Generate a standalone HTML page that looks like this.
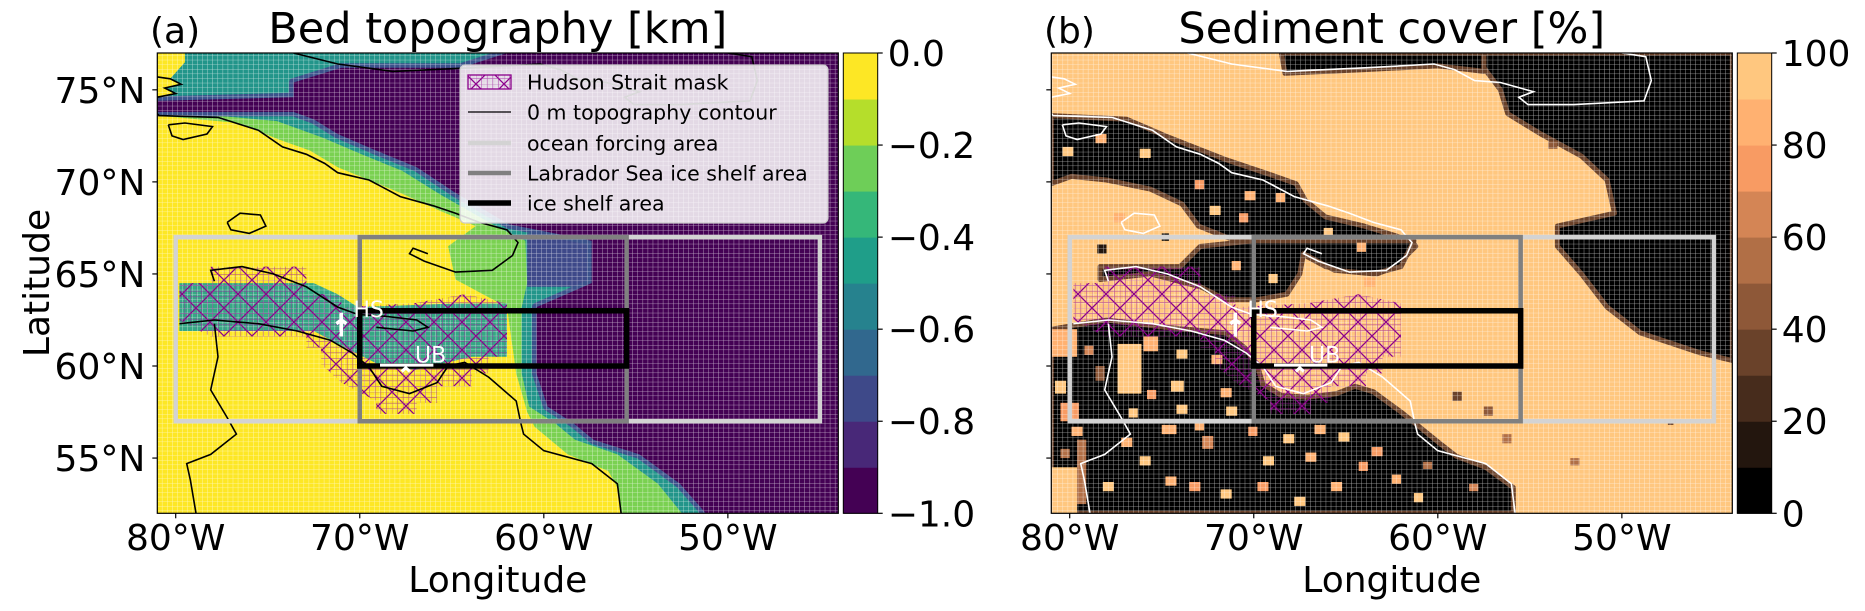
<!DOCTYPE html>
<html><head><meta charset="utf-8"><style>
html,body{margin:0;padding:0;background:#fff;}
svg{display:block;font-family:"DejaVu Sans","Liberation Sans",sans-serif;}
</style></head><body>
<svg id="fig" width="1865" height="611" viewBox="0 0 1865 611" xmlns="http://www.w3.org/2000/svg">
<defs>
<pattern id="grid" patternUnits="userSpaceOnUse" width="5.06" height="4.6">
<path d="M0 0H5.06M0 0V4.6" stroke="#fff" stroke-width="0.8" opacity="0.7" fill="none"/>
</pattern>
<pattern id="hatch" patternUnits="userSpaceOnUse" width="28" height="28">
<path d="M0 0L28 28M28 0L0 28" stroke="#8b008b" stroke-width="1.3" fill="none"/>
<path d="M0 0H28M0 5.6H28M0 11.2H28M0 16.8H28M0 22.4H28M0 0V28M5.6 0V28M11.2 0V28M16.8 0V28M22.4 0V28" stroke="#a020a0" stroke-width="0.6" opacity="0.7" fill="none"/>
</pattern>
<clipPath id="clipA"><rect x="157.3" y="53" width="681" height="460.3"/></clipPath>
<clipPath id="clipB"><rect x="1051.3" y="53" width="681" height="460.3"/></clipPath>
</defs>
<g id="root"></g>
</svg>
<script>
// ---- data (lon/lat) ----
const latTicks = [75, 70, 65, 60, 55];
const latTickLabels = ["75°N", "70°N", "65°N", "60°N", "55°N"];
const lonTicks = [-80, -70, -60, -50];
const lonTickLabels = ["80°W", "70°W", "60°W", "50°W"];
const cbarATicks = [0.0, -0.2, -0.4, -0.6, -0.8, -1.0];
const cbarATickLabels = ["0.0", "−0.2", "−0.4", "−0.6", "−0.8", "−1.0"];
const cbarAColors = ["#440154","#482878","#3e4989","#31688e","#26828e","#1f9e89","#35b779","#6ece58","#b5de2b","#fde725"];
const cbarBTicks = [0, 20, 40, 60, 80, 100];
const cbarBTickLabels = ["0", "20", "40", "60", "80", "100"];
const cbarBColors = ["#000000","#23160e","#472c1c","#6a422a","#8e5838","#b16f46","#d48555","#f89b63","#ffb171","#ffc77f"];

const greenRegion = [[-55.8,52],[-56,53.4],[-56.5,54.3],[-58.7,55.2],[-60.5,56.7],[-60.9,57.5],[-61.5,59.6],[-62.0,63.2],[-64.8,64.7],[-65.2,66.5],[-63.7,67.6],[-65.8,68.5],[-67.8,69.4],[-69.5,70.1],[-71.2,70.8],[-72.7,71.7],[-74.4,72.3],[-76.6,73.2],[-81,73.6],[-81,77],[-44,77],[-44,52]];
const tealRegion = [[-52.5,52],[-53.8,53.6],[-56,55.2],[-58.3,56],[-59.4,56.9],[-60.8,57.8],[-61.2,59.6],[-61.2,63.2],[-60.9,64.5],[-61.0,66.8],[-62.8,67.7],[-65.6,69.3],[-67.7,70.6],[-69.9,71.5],[-72,72.4],[-74.5,73.3],[-81,73.9],[-81,77],[-44,77],[-44,52]];
const yellowCorner = [[-81,77],[-79.5,77],[-79.5,76.5],[-80.3,75.6],[-79.7,75.3],[-80.6,75.1],[-80,74.8],[-81,74.5]];
const blueRegion = [[-60.9,64.3],[-60.9,67.2],[-57.4,67.2],[-57.4,64.3]];
const purpleRegion = [[-44,52],[-51.2,52],[-52.6,53.6],[-54.8,55.2],[-57.3,56],[-58.4,56.9],[-59.8,57.8],[-60.4,59.6],[-60.4,63.2],[-57.4,64.5],[-57.4,66.8],[-61.9,67.7],[-64.8,69.4],[-66.9,70.8],[-69.1,71.7],[-71.2,72.6],[-72.5,73.4],[-73.6,73.8],[-81,73.8],[-81,74.4],[-73.6,74.6],[-73.6,75.4],[-71,76.2],[-64.5,76.2],[-62,77],[-44,77]];
const channelRegion = [[-79.8,64.5],[-72.5,64.5],[-71.2,63.9],[-70.1,63.2],[-64.8,63.4],[-62,63.4],[-62,60.5],[-63.9,60.5],[-67,59.8],[-69,60.1],[-70.6,60.9],[-72.5,61.9],[-79.8,61.9]];
const hudsonMask = [[-78.1,65.4],[-72.9,65.4],[-72.9,63.9],[-71,63.9],[-71,63.2],[-67.1,63.4],[-64.3,63.9],[-62,63.4],[-62,60.5],[-63,60.5],[-63,59.6],[-63.9,59.6],[-63.9,58.9],[-65.8,58.9],[-65.8,58],[-66.9,58],[-66.9,57.4],[-69.1,57.4],[-69.1,58.1],[-71,59.1],[-72.1,60.1],[-72.1,61],[-72.9,61],[-72.9,61.6],[-78.1,61.6],[-79.8,62.5],[-79.8,64.5],[-78.1,64.5]];

const sedBlackBand = [[-81,73.6],[-76.9,73.4],[-74.8,72.5],[-71.5,71.2],[-69.4,70.5],[-67.7,69.9],[-67.2,69.0],[-66.1,68.1],[-64,67.6],[-61.4,66.8],[-61.2,66.5],[-62.3,65.4],[-63.3,65.0],[-66.1,65.4],[-67.4,66.1],[-69.8,66.5],[-71.5,67.0],[-73.0,67.6],[-73.9,68.8],[-75.6,69.6],[-78,70.1],[-79.9,70.3],[-81,69.9]];
const sedBlackNorthStrait = [[-78.35,65.4],[-74,65.4],[-72.9,66.5],[-70,66.8],[-61.3,66.8],[-62,65.4],[-63.5,65.0],[-65.6,65.2],[-67.3,66.1],[-67.5,65.0],[-68.2,63.9],[-69.8,63.6],[-71.5,63.6],[-72.9,64.3],[-75.6,65.0],[-78.35,64.7]];
const sedBlackSouth = [[-81,62.0],[-78,62.5],[-74.8,62.1],[-71.5,61.8],[-70.5,61.0],[-69.8,60.0],[-69.5,59.0],[-68.5,58.4],[-67.1,58.3],[-65.5,58.5],[-64.5,58.9],[-63.5,58.6],[-62.0,57.5],[-61,56.7],[-59.9,55.8],[-59,55.1],[-57.4,54.5],[-55.9,53.4],[-55.9,52],[-81,52]];
const sedBlackNE = [[-57.5,77],[-44,77],[-44,60.3],[-45.7,60.7],[-49,61.8],[-50.8,63.2],[-52.2,65.0],[-53.5,66.5],[-53.5,67.6],[-50.4,68.3],[-50.8,70.1],[-52.2,71.4],[-54.4,72.6],[-56.2,73.7],[-56.6,75.0],[-57.5,76.2]];
const sedBlackTop = [[-68.5,77],[-57.5,77],[-57.5,76.0],[-60,76.3],[-64,76.1],[-68.3,75.9]];
// patches of sediment cover: [lon0, lat0, lon1, lat1, percent]
const sedPatches = [[-81,60.5,-79.6,62,90],[-77.4,58.5,-76.1,61.2,100],[-76,60.8,-75.2,61.6,90],[-74.5,58.6,-73.8,59.2,100],[-80.5,57,-79.5,58,80],[-81,52,-79.6,54.5,100],[-79.6,52.5,-79.1,56,50],[-75,56.3,-74.2,56.8,90],[-72.8,55.5,-72.2,56.2,70],[-78.6,59.2,-78.1,60,40],[-73.5,53.2,-72.9,53.7,80],[-66.7,56.3,-66.1,56.8,90],[-63.6,55.1,-63,55.6,80],[-76.2,71.3,-75.6,71.8,100],[-70.5,69.0,-69.9,69.5,90],[-73.2,69.6,-72.7,70.1,80],[-78.5,66.1,-78,66.6,10],[-75,66.8,-74.6,67.2,0],[-66.9,63.9,-66.3,64.4,100],[-64,64.3,-63.4,64.8,90],[-71.8,58.3,-71.2,58.8,90],[-69.5,54.6,-68.9,55.1,100],[-60.8,54.4,-60.3,54.8,60],[-58.3,53.2,-57.8,53.6,70],[-47.5,56.8,-47.2,57.1,30],[-54,71.8,-53.5,72.2,40],
 [-80.8,58.5,-80.2,59.2,100],[-79.9,56.2,-79.3,56.7,90],[-76.8,57.2,-76.3,57.7,100],[-75.8,58.2,-75.3,58.7,80],[-74.2,57.4,-73.6,57.9,100],[-73.2,56.5,-72.7,57.0,90],[-71.5,57.3,-70.9,57.8,100],[-70.3,56.2,-69.8,56.7,80],[-68.4,55.8,-67.8,56.3,100],[-67.2,54.8,-66.6,55.3,90],[-65.4,55.9,-64.8,56.4,100],[-64.3,54.3,-63.8,54.8,80],[-62.5,53.6,-62,54.1,90],[-61.3,52.6,-60.8,53.1,100],[-76.2,54.6,-75.6,55.1,100],[-74.8,53.5,-74.2,54,90],[-71.8,52.8,-71.2,53.3,100],[-69.8,53.2,-69.2,53.7,80],[-67.8,52.4,-67.2,52.9,100],[-65.8,53.2,-65.2,53.7,90],[-78.2,53.2,-77.6,53.7,100],[-77.2,55.6,-76.6,56.1,90],[-80.5,55.0,-80,55.5,60],[-72.3,60.1,-71.7,60.6,90],[-74.2,60.4,-73.6,60.9,100],[-79.2,60.6,-78.7,61.1,70],[-80.6,66.5,-80,67,100],[-77.6,67.8,-77,68.3,90],[-72.4,68.2,-71.8,68.7,100],[-70.8,67.8,-70.3,68.3,80],[-68.8,68.9,-68.3,69.4,90],[-66.2,67.0,-65.7,67.5,100],[-64.4,66.2,-63.9,66.7,90],[-80.4,71.4,-79.8,71.9,100],[-78.6,72.1,-78,72.6,90],[-69.2,64.5,-68.7,65,100],[-71.2,65.2,-70.7,65.7,90],[-57.5,57.3,-57,57.8,40],[-56.5,55.8,-56,56.3,50],[-59.2,58.1,-58.7,58.6,30],[-52.8,54.6,-52.3,55,60]];

const contours = [
 [[-73.6,77],[-71.2,76.4],[-68.2,76.0],[-63.8,76.2],[-60.2,76.4],[-59.1,76.1],[-58,75.5],[-56.6,75.4],[-54.8,74.9],[-55.6,74.6],[-55.1,74.2],[-52.6,74.2],[-48.8,74.4],[-48.4,75.5],[-48.7,76.8],[-50.0,77]],
 [[-81,75.7],[-80.3,75.6],[-79.7,75.3],[-80.6,75.1],[-80,74.8],[-81,74.6]],
 [[-80.4,73.1],[-79.5,73.2],[-78,73.0],[-78.3,72.6],[-79.6,72.3],[-80.2,72.5],[-80.4,73.1]],
 [[-81,73.7],[-80.9,73.6],[-77.7,73.5],[-75.5,72.8],[-74.2,71.9],[-72.9,71.5],[-71.9,71.0],[-71.2,70.5],[-69.5,70.1],[-67.8,69.2],[-66.0,68.7],[-64.8,68.3],[-63.5,67.8],[-62.0,67.4],[-61.4,66.7],[-61.7,66.0],[-62.8,65.2],[-64.8,65.1],[-66.5,65.7],[-67.3,66.1],[-67.1,66.4],[-66.3,66.1]],
 [[-77.2,67.8],[-76.5,68.3],[-75.4,68.2],[-75.1,67.6],[-76,67.2],[-77,67.4],[-77.2,67.8]],
 [[-77.9,64.6],[-78.1,65.2],[-76.4,65.4],[-74.7,65.0],[-72.9,64.3],[-71.2,63.2],[-70.1,62.8],[-68.6,62.7],[-66.9,62.5],[-66.3,62.1],[-67.1,61.9],[-69.1,62.1]],
 [[-79.8,62.3],[-77.9,62.5],[-75.5,62.3],[-73.4,61.9],[-71.6,61.4],[-70.4,60.7],[-69.5,59.95],[-68.8,58.9],[-67.3,58.5],[-65.8,59.1],[-65.2,60.0],[-64.3,60.2],[-63.0,59.4],[-61.5,58.1],[-61.25,56.9],[-61.1,56.3],[-60,55.4],[-57.4,54.7],[-56,53.6],[-55.8,52]],
 [[-77.9,62.3],[-77.7,60.5],[-78.1,58.7],[-77.2,57.2],[-76.7,56.3],[-78.1,55.2],[-79.4,54.7],[-79.2,53.8],[-78.9,52]]
];
const oceanBox = [-80, -45, 57, 67];
const labBox = [-70, -55.5, 57, 67];
const shelfBox = [-70, -55.5, 60, 63];

// ---- axes ----
const MAP_W = 681, MAP_H = 460.3, MAP_Y = 53;
const OFF_A = 157.3, OFF_B = 1051.3;
function X(lon, off){ return off + (lon + 81) * MAP_W / 37; }
function Y(lat){ return MAP_Y + (77 - lat) * MAP_H / 25; }
function cbY(frac){ return MAP_Y + MAP_H * (1 - frac); }

const NS = "http://www.w3.org/2000/svg";
const root = document.getElementById("root");
function mk(tag, attrs, parent){
  const e = document.createElementNS(NS, tag);
  for (const k in attrs) e.setAttribute(k, attrs[k]);
  (parent || root).appendChild(e);
  return e;
}
function pathOf(pts, off, close){
  return pts.map((p,i)=>(i?"L":"M")+X(p[0],off).toFixed(1)+" "+Y(p[1]).toFixed(1)).join("") + (close?"Z":"");
}
function poly(g, pts, off, fill, name, extra){
  const e = mk("path", Object.assign({d: pathOf(pts, off, true), fill: fill}, extra||{}), g);
  
  
  return e;
}
function rectBox(g, b, off, color, w, name){
  const e = mk("rect", {x: X(b[0],off), y: Y(b[3]), width: X(b[1],off)-X(b[0],off), height: Y(b[2])-Y(b[3]), fill:"none", stroke: color, "stroke-width": w}, g);
  
  
}
function txt(g, x, y, s, size, anchor, fill, name, extra){
  const e = mk("text", Object.assign({x:x, y:y, "font-size":size, "text-anchor":anchor||"start", fill: fill||"#000"}, extra||{}), g);
  e.textContent = s;
  
  
  return e;
}

function drawPanel(off, kind){
  const g = mk("g", {"clip-path": kind==="a" ? "url(#clipA)" : "url(#clipB)"});
  
  
  if (kind === "a"){
    poly(g, [[-81,77],[-44,77],[-44,52],[-81,52]], off, "#fde725", "land-background");
    poly(g, greenRegion, off, "#7ad151", "shelf-green-band");
    poly(g, tealRegion, off, "#22958a", "shelf-teal-band");
    poly(g, yellowCorner, off, "#fde725", "land-corner");
    poly(g, blueRegion, off, "#3e4989", "slope-blue-band");
    poly(g, purpleRegion, off, "#440154", "deep-ocean", {stroke:"#3b528b","stroke-width":9,"stroke-linejoin":"round"});
    poly(g, purpleRegion, off, "#440154", "deep-ocean-core");
    poly(g, channelRegion, off, "#35a884", "hudson-strait-channel");
  } else {
    poly(g, [[-81,77],[-44,77],[-44,52],[-81,52]], off, "#ffc77f", "sediment-background");
    const rim = {stroke:"#6a422a","stroke-width":5,"stroke-linejoin":"round"};
    poly(g, sedBlackBand, off, "#000", "no-sediment-baffin-shelf", rim);
    poly(g, sedBlackNorthStrait, off, "#000", "no-sediment-north-strait", rim);
    poly(g, sedBlackSouth, off, "#000", "no-sediment-labrador", rim);
    poly(g, sedBlackNE, off, "#000", "no-sediment-northeast", rim);
    poly(g, sedBlackTop, off, "#000", "no-sediment-top", rim);
    sedPatches.forEach(p=>{
      const idx = Math.min(9, Math.round(p[4]/100*9));
      const e = mk("rect", {x:X(p[0],off), y:Y(p[3]), width:X(p[2],off)-X(p[0],off), height:Y(p[1])-Y(p[3]), fill: cbarBColors[idx]}, g);
      
      
    });
  }
  const gr = mk("rect", {x:off, y:MAP_Y, width:MAP_W, height:MAP_H, fill:"url(#grid)"}, g);
  
  
  poly(g, hudsonMask, off, "url(#hatch)", "hudson-strait-mask");
  const cc = kind==="a" ? "#000" : "#fff";
  contours.forEach(c=>{
    const e = mk("path", {d: pathOf(c, off, false), fill:"none", stroke: cc, "stroke-width": 1.6}, g);
    
    
  });
  rectBox(g, oceanBox, off, "#d3d3d3", 4.5, "ocean-forcing-area-box");
  rectBox(g, labBox, off, "#808080", 4.5, "labrador-sea-ice-shelf-box");
  rectBox(g, shelfBox, off, "#000", 5.5, "ice-shelf-area-box");
  const hs = mk("path", {d:`M${X(-71,off)} ${Y(62.9)}V${Y(61.6)}M${X(-71,off)-5} ${Y(62.3)}L${X(-71,off)} ${Y(62.5)}L${X(-71,off)+5} ${Y(62.3)}`, stroke:"#fff","stroke-width":3.5, fill:"none"}, g);
  
  
  txt(g, X(-70.35,off), Y(62.65), "HS", 22, "start", "#fff", "hs-label");
  const ub = mk("path", {d:`M${X(-68.9,off)} ${Y(60.05)}H${X(-66.0,off)}M${X(-67.5,off)-4} ${Y(59.7)}L${X(-67.5,off)} ${Y(59.9)}L${X(-67.5,off)+4} ${Y(59.7)}`, stroke:"#fff","stroke-width":3, fill:"none"}, g);
  
  
  txt(g, X(-67.0,off), Y(60.2), "UB", 22, "start", "#fff", "ub-label");

  const fr = mk("rect", {x:off, y:MAP_Y, width:MAP_W, height:MAP_H, fill:"none", stroke:"#000","stroke-width":1.2});
  
  
  latTicks.forEach((t,i)=>{
    const tk = mk("line", {x1:off-5, x2:off, y1:Y(t), y2:Y(t), stroke:"#000","stroke-width":1.2});
    
    
    if (kind==="a") txt(root, off-12, Y(t)+13, latTickLabels[i], 36, "end", "#000", "latitude-tick-label");
  });
  lonTicks.forEach((t,i)=>{
    const tk = mk("line", {x1:X(t,off), x2:X(t,off), y1:MAP_Y+MAP_H, y2:MAP_Y+MAP_H+5, stroke:"#000","stroke-width":1.2});
    
    
    txt(root, X(t,off), 550, lonTickLabels[i], 36, "middle", "#000", "longitude-tick-label");
  });
  txt(root, off+MAP_W/2, 592, "Longitude", 36, "middle", "#000", "x-axis-title");
}

function drawCbar(x0, colors, ticks, labels, lo, hi, name){
  const g = mk("g", {});
  
  
  const w = 34.4, n = colors.length;
  colors.forEach((c,i)=>{
    const y1 = cbY((i+1)/n), y0 = cbY(i/n);
    const r = mk("rect", {x:x0, y:y1, width:w, height:y0-y1+0.5, fill:c}, g);
    
    
  });
  const f = mk("rect", {x:x0, y:MAP_Y, width:w, height:MAP_H, fill:"none", stroke:"#000","stroke-width":1}, g);
  
  
  ticks.forEach((t,i)=>{
    const y = cbY((t-lo)/(hi-lo));
    const tk = mk("line", {x1:x0+w, x2:x0+w+5, y1:y, y2:y, stroke:"#000","stroke-width":1.2}, g);
    
    
    txt(g, x0+w+10, y+13, labels[i], 36, "start", "#000", "colorbar-tick-label");
  });
}

drawPanel(OFF_A, "a");
drawPanel(OFF_B, "b");
drawCbar(843.3, cbarAColors, cbarATicks, cbarATickLabels, -1.0, 0.0, "bed-topography-colorbar");
drawCbar(1737.3, cbarBColors, cbarBTicks, cbarBTickLabels, 0, 100, "sediment-cover-colorbar");

txt(root, 150, 43, "(a)", 36, "start", "#000", "panel-a-label");
txt(root, OFF_A+MAP_W/2, 43, "Bed topography [km]", 43, "middle", "#000", "panel-a-title");
txt(root, 1044, 43, "(b)", 36, "start", "#000", "panel-b-label");
txt(root, OFF_B+MAP_W/2, 43, "Sediment cover [%]", 43, "middle", "#000", "panel-b-title");
txt(root, 0, 0, "Latitude", 36, "middle", "#000", "y-axis-title", {transform:"translate(49,283) rotate(-90)"});

const lg = mk("g", {});


const lb = mk("rect", {x:460, y:65, width:368, height:158, rx:5, fill:"#fff", "fill-opacity":0.85, stroke:"#ccc","stroke-width":1.2}, lg);


const legendLabels = ["Hudson Strait mask","0 m topography contour","ocean forcing area","Labrador Sea ice shelf area","ice shelf area"];
const legendY = [82, 112, 143, 173, 203];
const hm = mk("rect", {x:468, y:legendY[0]-7, width:43, height:14, fill:"url(#hatch)", stroke:"#8b008b","stroke-width":1.3}, lg);


const lstyles = [null, ["#000",1.3], ["#d3d3d3",4.5], ["#808080",4.5], ["#000",5.5]];
legendLabels.forEach((s,i)=>{
  if (lstyles[i]){
    const l = mk("line", {x1:468, x2:511, y1:legendY[i], y2:legendY[i], stroke:lstyles[i][0], "stroke-width":lstyles[i][1]}, lg);
    
    
  }
  txt(lg, 527, legendY[i]+7.5, s, 20.5, "start", "#000", "legend-entry");
});
</script>
</body></html>
